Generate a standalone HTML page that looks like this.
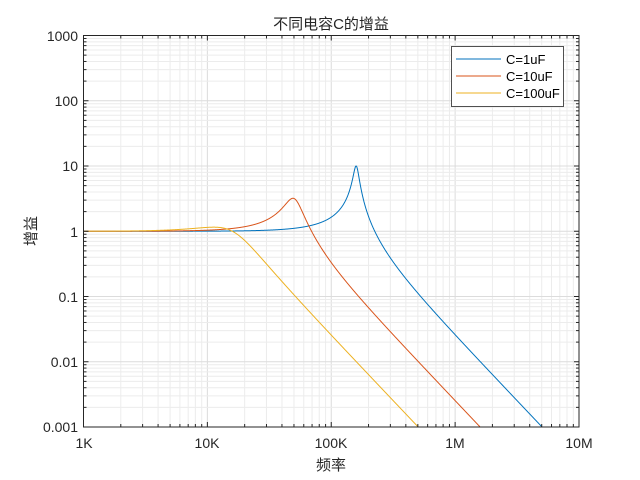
<!DOCTYPE html>
<html><head><meta charset="utf-8"><style>
html,body{margin:0;padding:0;background:#fff;}
svg{display:block;font-family:"Liberation Sans","Noto Sans CJK SC",sans-serif;}
</style></head><body>
<svg id="s" width="640" height="480" viewBox="0 0 640 480" xmlns="http://www.w3.org/2000/svg">
<rect x="0" y="0" width="640" height="480" fill="#fff"/>
<g id="grid"></g>
<g id="curves" fill="none" stroke-width="1"></g>
<rect x="83.5" y="35.5" width="495.5" height="391.5" fill="none" stroke="#262626" stroke-width="1"/>
<g id="ticks" stroke="#262626" stroke-width="1"></g>
<g font-size="14" fill="#262626" text-anchor="end">
<text x="78" y="41">1000</text><text x="78" y="106">100</text><text x="78" y="171">10</text>
<text x="78" y="237">1</text><text x="78" y="302">0.1</text><text x="78" y="367">0.01</text>
<text x="78" y="432">0.001</text>
</g>
<g font-size="14" fill="#262626" text-anchor="middle">
<text x="84" y="448">1K</text><text x="207" y="448">10K</text><text x="331" y="448">100K</text>
<text x="455" y="448">1M</text><text x="579" y="448">10M</text>
</g>
<text x="331" y="470" font-size="15" fill="#262626" text-anchor="middle">频率</text>
<text transform="translate(36,231) rotate(-90)" font-size="15" fill="#262626" text-anchor="middle">增益</text>
<text x="331" y="29" font-size="15" fill="#262626" text-anchor="middle">不同电容C的增益</text>
<rect x="451.5" y="46.5" width="112" height="60" fill="#fff" stroke="#262626" stroke-width="0.8"/>
<line x1="456" y1="59" x2="501" y2="59" stroke="#0072BD"/>
<line x1="456" y1="76" x2="501" y2="76" stroke="#D95319"/>
<line x1="456" y1="93" x2="501" y2="93" stroke="#EDB120"/>
<g font-size="13" fill="#000">
<text x="506" y="64">C=1uF</text><text x="506" y="81">C=10uF</text><text x="506" y="98">C=100uF</text>
</g>
</svg>
<script>
var L=83.5,R=579,T=35.5,B=427,dx=(R-L)/4,dy=(B-T)/6;
function X(f){return L+(Math.log10(f)-3)*dx;}
function Y(g){return T+(3-Math.log10(g))*dy;}
var ns="http://www.w3.org/2000/svg";
function el(p,t,a){var e=document.createElementNS(ns,t);for(var k in a)e.setAttribute(k,a[k]);p.appendChild(e);return e;}
var g=document.getElementById('grid'),tk=document.getElementById('ticks');
for(var d=3;d<7;d++)for(var m=1;m<10;m++){var x=X(m*Math.pow(10,d));
 el(g,'line',{x1:x,y1:T,x2:x,y2:B,stroke:m==1?'#dcdcdc':'#ececec'});
 var l=m==1?5:3;el(tk,'line',{x1:x,y1:B,x2:x,y2:B-l});el(tk,'line',{x1:x,y1:T,x2:x,y2:T+l});}
for(var d=-3;d<3;d++)for(var m=1;m<10;m++){var y=Y(m*Math.pow(10,d));
 el(g,'line',{x1:L,y1:y,x2:R,y2:y,stroke:m==1?'#dcdcdc':'#ececec'});
 var l=m==1?5:3;el(tk,'line',{x1:L,y1:y,x2:L+l,y2:y});el(tk,'line',{x1:R,y1:y,x2:R-l,y2:y});}
var c=document.getElementById('curves');
[[159155,10,'#0072BD'],[50330,3.162,'#D95319'],[15915,1,'#EDB120']].forEach(function(s){
 var pts=[];for(var i=0;i<=3000;i++){var f=Math.pow(10,3+4*i/3000),u=f/s[0];
 var re=1-u*u,im=u/s[1],h=1/Math.sqrt(re*re+im*im);if(h<0.001){var y=B;pts.push(X(f).toFixed(2)+','+y);break;}
 pts.push(X(f).toFixed(2)+','+Y(h).toFixed(2));}
 el(c,'polyline',{points:pts.join(' '),stroke:s[2]});});
</script>
</body></html>
